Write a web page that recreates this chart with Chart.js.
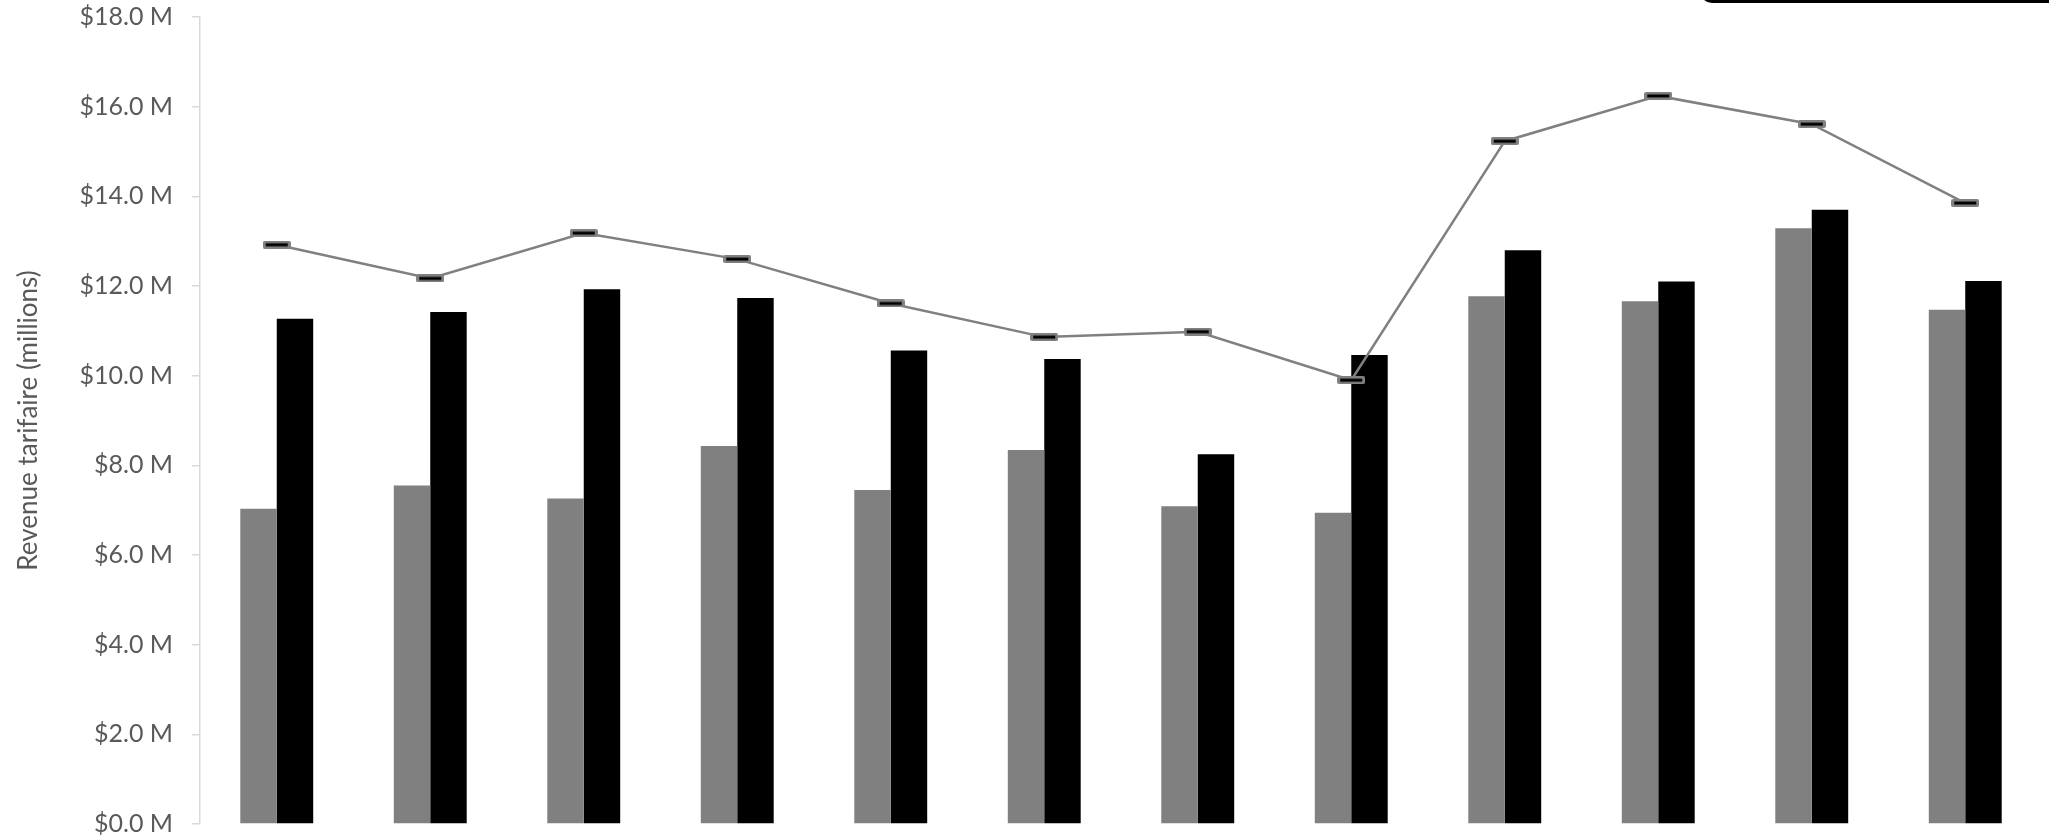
<!DOCTYPE html>
<html>
<head>
<meta charset="utf-8">
<script src="https://cdn.jsdelivr.net/npm/chart.js@4/dist/chart.umd.min.js"></script>
<style>
  html, body { margin: 0; padding: 0; background: #ffffff; }
  #wrap { width: 2049px; height: 836px; position: relative; }
</style>
</head>
<body>
<div id="wrap"><canvas id="revenueChart"></canvas></div>
<script>
// data (millions $)
const categories = ['janv.', 'févr.', 'mars', 'avr.', 'mai', 'juin', 'juil.', 'août', 'sept.', 'oct.', 'nov.', 'déc.'];
const grayValues = [7.03, 7.55, 7.26, 8.43, 7.45, 8.34, 7.09, 6.94, 11.77, 11.66, 13.29, 11.47];
const blackValues = [11.27, 11.42, 11.93, 11.73, 10.56, 10.37, 8.25, 10.46, 12.80, 12.10, 13.70, 12.11];
const lineValues = [12.92, 12.17, 13.18, 12.60, 11.61, 10.86, 10.98, 9.90, 15.23, 16.24, 15.61, 13.85];
const yTicks = [0, 2, 4, 6, 8, 10, 12, 14, 16, 18];

const TEXT_COLOR = '#595959';
const AXIS_COLOR = '#d9d9d9';

// dash-like marker: gray box with black bar inside
function makeMarker() {
    const c = document.createElement('canvas');
    c.width = 28;
    c.height = 8;
    const g = c.getContext('2d');
    g.fillStyle = '#808080';
    g.beginPath();
    g.roundRect(0, 0, 28, 8, 2);
    g.fill();
    g.fillStyle = '#000000';
    g.fillRect(3, 2.5, 22, 3);
    return c;
}

// legend box that sits mostly above the picture (only its bottom edge shows)
const cutLegendBox = {
    id: 'cutLegendBox',
    afterDraw(chart) {
        const g = chart.ctx;
        g.save();
        g.fillStyle = '#000000';
        g.beginPath();
        g.roundRect(1700, -40, 400, 43, 12);
        g.fill();
        g.restore();
    }
};

document.addEventListener('DOMContentLoaded', function() {
    const ctx = document.getElementById('revenueChart');

    new Chart(ctx, {
        data: {
            labels: categories,
            datasets: [{
                type: 'line',
                label: 'Série 3',
                data: lineValues,
                borderColor: '#808080',
                borderWidth: 2.5,
                pointStyle: makeMarker(),
                tension: 0,
                order: 0
            }, {
                type: 'bar',
                label: 'Série 1',
                data: grayValues,
                backgroundColor: '#808080',
                barPercentage: 1,
                categoryPercentage: 0.475,
                order: 1
            }, {
                type: 'bar',
                label: 'Série 2',
                data: blackValues,
                backgroundColor: '#000000',
                barPercentage: 1,
                categoryPercentage: 0.475,
                order: 2
            }]
        },
        options: {
            responsive: true,
            maintainAspectRatio: false,
            animation: false,
            layout: { padding: { top: 17, bottom: 12, left: 0, right: 7 } },
            plugins: {
                legend: { display: false },
                tooltip: { enabled: false }
            },
            scales: {
                x: { display: false },
                y: {
                    min: 0,
                    max: 18,
                    afterBuildTicks: axis => { axis.ticks = yTicks.map(v => ({ value: v })); },
                    afterFit: axis => {
                        axis.width = 200;
                        // keep the plot from being pushed in by the label padding
                        axis.paddingTop = 0;
                        axis.paddingBottom = 0;
                    },
                    ticks: {
                        color: TEXT_COLOR,
                        font: { family: 'Lato', size: 25, lineHeight: 1 },
                        padding: 19,
                        callback: value => '$' + Number(value).toFixed(1) + ' M'
                    },
                    grid: {
                        drawOnChartArea: false,
                        drawTicks: true,
                        tickLength: 8,
                        color: AXIS_COLOR,
                        lineWidth: 1.5
                    },
                    border: { display: true, color: AXIS_COLOR, width: 1.5 },
                    title: {
                        display: true,
                        text: 'Revenue tarifaire (millions)',
                        color: TEXT_COLOR,
                        font: { family: 'Lato', size: 26 },
                        padding: { top: 13, bottom: 0 }
                    }
                }
            }
        },
        plugins: [cutLegendBox]
    });
});
</script>
</body>
</html>
